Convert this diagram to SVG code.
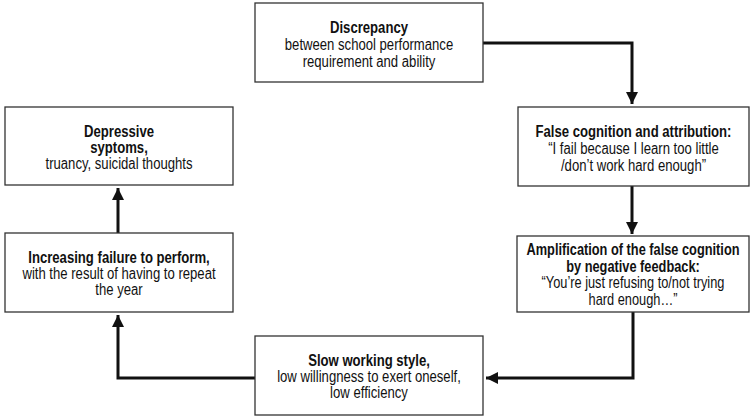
<svg xmlns="http://www.w3.org/2000/svg" width="751" height="420" viewBox="0 0 751 420">
<defs>
<marker id="ah" viewBox="0 0 10 10" refX="10" refY="5" markerWidth="4" markerHeight="5" orient="auto" markerUnits="strokeWidth">
<path d="M0,0 L10,5 L0,10 Z" fill="#111"/>
</marker>
<style>
.box{fill:#fff;stroke:#333;stroke-width:1.3}
text{font-family:"Liberation Sans",Arial,sans-serif;font-size:16px;fill:#111;text-anchor:middle}
.b{font-weight:bold}
.con{fill:none;stroke:#111;stroke-width:3;marker-end:url(#ah)}
</style>
</defs>
<rect width="751" height="420" fill="#fff"/>
<g id="connectors">
<path class="con" d="M483,43 H632 V104"/>
<path class="con" d="M632,186 V234"/>
<path class="con" d="M633,312 V378 H486"/>
<path class="con" d="M255,378 H118 V315"/>
<path class="con" d="M118,233 V188"/>
</g>
<g id="discrepancy">
<rect class="box" x="255" y="3" width="228" height="79"/>
<g transform="translate(369 0) scale(0.82 1)">
<text x="0" y="33" class="b">Discrepancy</text>
<text x="0" y="50">between school performance</text>
<text x="0" y="67">requirement and ability</text>
</g>
</g>
<g id="false-cognition">
<rect class="box" x="518" y="107" width="231" height="79"/>
<g transform="translate(633.5 0) scale(0.82 1)">
<text x="0" y="137" class="b">False cognition and attribution:</text>
<text x="0" y="154">“I fail because I learn too little</text>
<text x="0" y="171">/don’t work hard enough”</text>
</g>
</g>
<g id="amplification">
<rect class="box" x="517" y="236" width="232" height="76"/>
<g transform="translate(633 0) scale(0.8 1)">
<text x="0" y="255" class="b">Amplification of the false cognition</text>
<text x="0" y="272" class="b">by negative feedback:</text>
<text x="0" y="288">“You’re just refusing to/not trying</text>
<text x="0" y="305">hard enough…”</text>
</g>
</g>
<g id="slow-working">
<rect class="box" x="255" y="336" width="228" height="79"/>
<g transform="translate(369 0) scale(0.82 1)">
<text x="0" y="366" class="b">Slow working style,</text>
<text x="0" y="382">low willingness to exert oneself,</text>
<text x="0" y="398">low efficiency</text>
</g>
</g>
<g id="depressive">
<rect class="box" x="5" y="107" width="228" height="78"/>
<g transform="translate(119 0) scale(0.82 1)">
<text x="0" y="137" class="b">Depressive</text>
<text x="0" y="153" class="b">syptoms,</text>
<text x="0" y="169">truancy, suicidal thoughts</text>
</g>
</g>
<g id="increasing">
<rect class="box" x="5" y="233" width="228" height="79"/>
<g transform="translate(119 0) scale(0.82 1)">
<text x="0" y="263" class="b">Increasing failure to perform,</text>
<text x="0" y="279">with the result of having to repeat</text>
<text x="0" y="295">the year</text>
</g>
</g>
</svg>
